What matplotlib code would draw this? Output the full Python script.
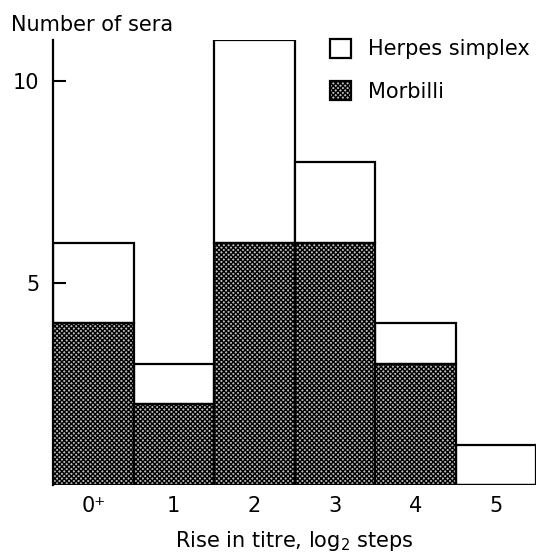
import numpy as np
import matplotlib.pyplot as plt

# Number of sera by rise in titre (log2 steps)
steps = ['0\u207a', '1', '2', '3', '4', '5']
morbilli = [4, 2, 6, 6, 3, 0]
herpes = [2, 1, 5, 2, 1, 1]

plt.rcParams['font.family'] = 'DejaVu Sans'
plt.rcParams['hatch.linewidth'] = 1.0

fig = plt.figure(figsize=(5.47, 5.52), dpi=100)
ax = fig.add_axes([0.097, 0.121, 0.883, 0.806])

x = np.arange(len(steps))
h1 = ax.bar(x, herpes, width=1.0, bottom=morbilli, color='white',
            edgecolor='black', linewidth=1.6, label='Herpes simplex')
h2 = ax.bar(x, morbilli, width=1.0, color='#bcbcbc', hatch='x' * 7,
            edgecolor='black', linewidth=1.6, label='Morbilli')

ax.set_xlim(-0.5, 5.5)
ax.set_ylim(0, 11)
ax.set_yticks([5, 10])
ax.set_xticks(x)
ax.set_xticklabels(steps)
ax.tick_params(axis='y', direction='in', length=9, width=1.5, labelsize=15, pad=10)
ax.tick_params(axis='x', length=0, labelsize=15, pad=8)

for s in ['top', 'right', 'bottom']:
    ax.spines[s].set_visible(False)
ax.spines['left'].set_linewidth(1.6)

ax.set_xlabel(r'Rise in titre, log$_2$ steps', fontsize=15, labelpad=9)
fig.text(0.02, 0.955, 'Number of sera', fontsize=15, ha='left', va='center')

ax.legend(handles=[h1, h2], loc='upper right', bbox_to_anchor=(1.025, 1.045),
          frameon=False, fontsize=15, handlelength=1.0, handleheight=1.0,
          handletextpad=0.8, labelspacing=1.05)

fig.savefig('out.png', dpi=100)
